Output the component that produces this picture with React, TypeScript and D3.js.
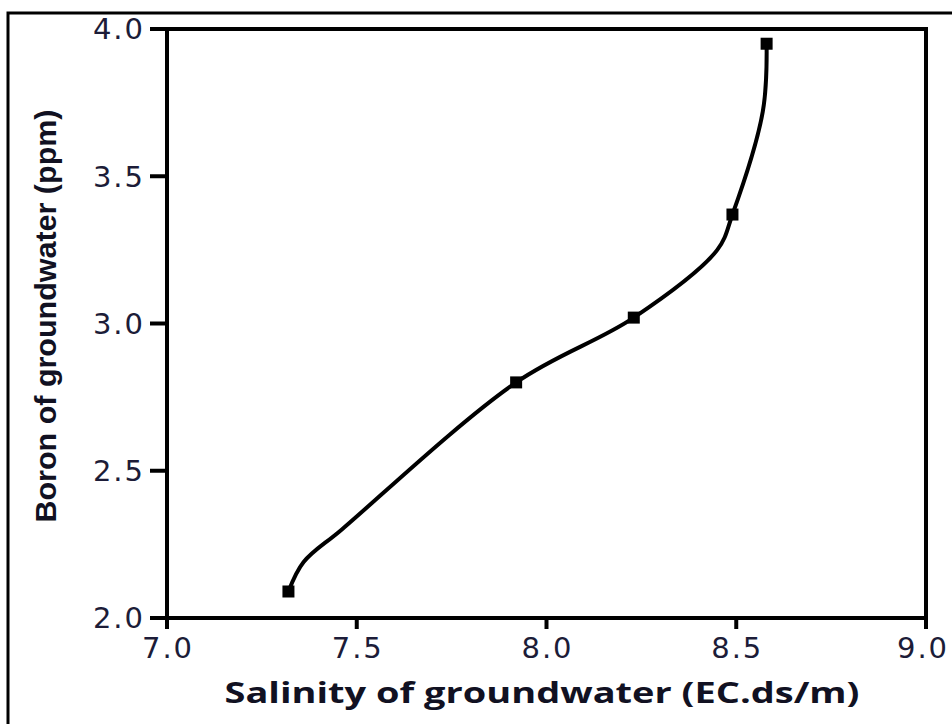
import React from 'react';
import * as d3 from 'd3';

// salinity (EC ds/m) vs boron (ppm);
// unmarked entries are visible bends of the drawn curve
const salinity = [7.32, 7.36, 7.46, 7.92, 8.23, 8.45, 8.49, 8.57, 8.58];
const boron = [2.09, 2.19, 2.30, 2.80, 3.02, 3.25, 3.37, 3.72, 3.95];
const marked = [true, false, false, true, true, false, true, false, true];

const xTicks = [7.0, 7.5, 8.0, 8.5, 9.0];
const yTicks = [2.0, 2.5, 3.0, 3.5, 4.0];

const xTitle = 'Salinity of groundwater (EC.ds/m)';
const yTitle = 'Boron of groundwater (ppm)';

const W = 952;
const H = 724;
const margin = {top: 29, left: 167, right: 26, bottom: 106};

export default function App() {
  const x = d3.scaleLinear().domain([7, 9]).range([margin.left, W - margin.right]);
  const y = d3.scaleLinear().domain([2, 4]).range([H - margin.bottom, margin.top]);

  const pts = salinity.map((s, i) => ({s, b: boron[i], m: marked[i]}));
  const line = d3.line<{s: number; b: number}>()
    .x(d => x(d.s))
    .y(d => y(d.b))
    .curve(d3.curveCatmullRom.alpha(0.5));

  const tickFont = {fontFamily: 'DejaVu Sans', fontSize: 29, fill: '#1c1c38', letterSpacing: 2};
  const x0 = x(7), x1 = x(9), y0 = y(2), y1 = y(4);

  return (
    <svg width={W} height={H} style={{position: 'absolute', left: 0, top: 0, background: '#fff'}}>
      {/* outer frame */}
      <rect x={8} y={13} width={W} height={H} fill="none" stroke="#000" strokeWidth={3} />

      {/* curve */}
      <path d={line(pts) || ''} fill="none" stroke="#000" strokeWidth={4} strokeLinejoin="round" />
      {pts.filter(p => p.m).map((p, i) => (
        <rect key={i} x={x(p.s) - 6} y={y(p.b) - 6} width={12} height={12} fill="#000" />
      ))}

      {/* plot box */}
      <rect x={x0} y={y1} width={x1 - x0} height={y0 - y1} fill="none" stroke="#000" strokeWidth={4} />

      {/* x axis ticks */}
      {xTicks.map(t => (
        <g key={'x' + t}>
          <line x1={x(t)} x2={x(t)} y1={y0} y2={y0 + 11} stroke="#000" strokeWidth={4} />
          <text x={t === 9 ? x(t) - 3 : x(t) + 1} y={658} textAnchor="middle" {...tickFont}>{t.toFixed(1)}</text>
        </g>
      ))}

      {/* y axis ticks */}
      {yTicks.map(t => (
        <g key={'y' + t}>
          <line x1={x0 - 17} x2={x0} y1={y(t)} y2={y(t)} stroke="#000" strokeWidth={4} />
          <text x={145} y={y(t)} dy="0.36em" textAnchor="end" {...tickFont}>{t.toFixed(1)}</text>
        </g>
      ))}

      {/* axis titles */}
      <text x={542} y={703} textAnchor="middle" textLength={635} lengthAdjust="spacingAndGlyphs"
        style={{fontFamily: 'Open Sans', fontWeight: 700, fontSize: 28, fill: '#111122'}}>
        {xTitle}
      </text>
      <text transform="translate(56,316) rotate(-90)" textAnchor="middle" textLength={413} lengthAdjust="spacingAndGlyphs"
        style={{fontFamily: 'Liberation Sans', fontWeight: 700, fontSize: 30, fill: '#111122'}}>
        {yTitle}
      </text>
    </svg>
  );
}
